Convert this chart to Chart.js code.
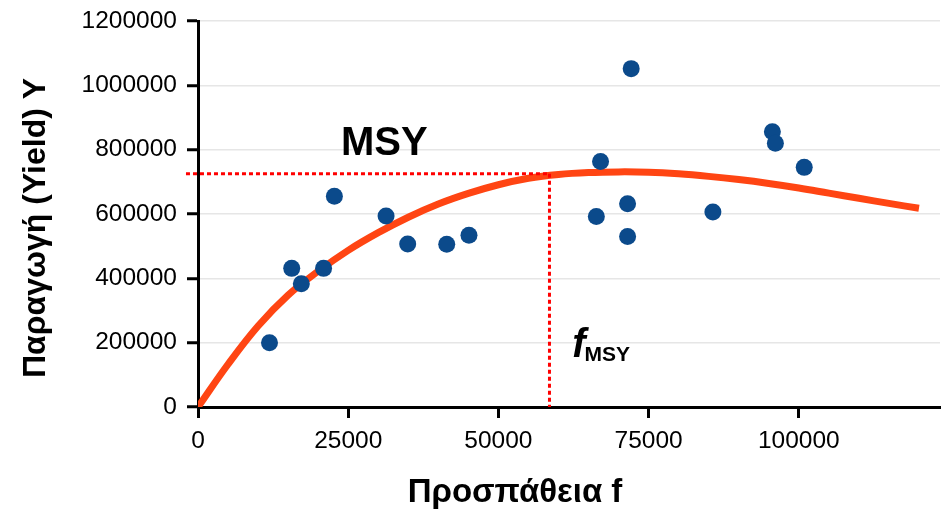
<!DOCTYPE html>
<html>
<head>
<meta charset="utf-8">
<script src="https://cdn.jsdelivr.net/npm/chart.js@4.4.0/dist/chart.umd.min.js"></script>
<style>
  html, body { margin: 0; padding: 0; background: #fff; }
</style>
</head>
<body>
<canvas id="chart" width="941" height="510"></canvas>
<script>
// observed catches (effort f, yield Y)
const effortObs = [11900, 15600, 17200, 20900, 22700, 31300, 34900, 41400, 45100,
  66300, 67000, 71500, 71500, 72100, 85700, 95600, 96100, 100900];
const yieldObs = [200000, 431000, 383000, 431000, 655000, 594000, 507000, 506000, 534000,
  592000, 763000, 632000, 530000, 1052000, 606000, 856000, 820000, 745000];

// fitted curve
const curveEffort = [0, 5000, 10000, 15000, 20000, 25000, 30000, 35000, 40000, 45000, 50000,
  55000, 60000, 65000, 70000, 75000, 80000, 85000, 90000, 95000, 100000, 105000, 110000, 115000, 120000];
const curveYield = [0, 133000, 252000, 348000, 422000, 487000, 542000, 590000, 631000, 664000, 691000,
  711000, 723000, 729000, 731000, 730000, 725000, 717000, 707000, 695000, 681000, 665000, 649000, 633000, 618000];

const fMsy = 58500;
const yMsy = 725000;

const xTicks = [0, 25000, 50000, 75000, 100000];
const yTicks = [0, 200000, 400000, 600000, 800000, 1000000, 1200000];

// label anchors in data units
const msyLabelAt = [31000, 818000];
const fLabelAt = [62300, 155000];

const FONT = '"Liberation Sans", Arial, Helvetica, sans-serif';
Chart.defaults.font.family = FONT;
Chart.defaults.color = '#000';

const toXY = (xs, ys) => xs.map((v, i) => ({ x: v, y: ys[i] }));

const labelsPlugin = {
  id: 'msyLabels',
  afterDatasetsDraw(chart) {
    const { ctx, scales: { x, y } } = chart;
    ctx.save();
    ctx.fillStyle = '#000';
    ctx.font = 'bold 40px ' + FONT;
    ctx.textAlign = 'center';
    ctx.textBaseline = 'middle';
    ctx.fillText('MSY', x.getPixelForValue(msyLabelAt[0]), y.getPixelForValue(msyLabelAt[1]));

    const fx = x.getPixelForValue(fLabelAt[0]);
    const fy = y.getPixelForValue(fLabelAt[1]);
    ctx.textAlign = 'left';
    ctx.textBaseline = 'alphabetic';
    ctx.font = 'italic bold 40px ' + FONT;
    ctx.fillText('f', fx, fy);
    const w = ctx.measureText('f').width;
    ctx.font = 'bold 21px ' + FONT;
    ctx.fillText('MSY', fx + w - 1, fy + 4);

    // axis titles
    ctx.textAlign = 'center';
    ctx.textBaseline = 'middle';
    ctx.font = 'bold 33px ' + FONT;
    ctx.fillText('Προσπάθεια f', 515, 493);
    ctx.translate(36, 228);
    ctx.rotate(-Math.PI / 2);
    ctx.font = 'bold 32px ' + FONT;
    ctx.fillText('Παραγωγή (Yield) Y', 0, 0);
    ctx.restore();
  }
};

new Chart(document.getElementById('chart'), {
  type: 'scatter',
  data: {
    datasets: [
      {
        label: 'Observed',
        data: toXY(effortObs, yieldObs),
        pointRadius: 8.5,
        pointHoverRadius: 8.5,
        backgroundColor: '#0b4a8b',
        borderWidth: 0,
        order: 0
      },
      {
        type: 'line',
        label: 'MSY level',
        data: [{ x: -2000, y: yMsy }, { x: fMsy, y: yMsy }],
        borderColor: '#ff0000',
        borderWidth: 3,
        borderDash: [4, 3],
        pointRadius: 0,
        clip: false,
        order: 1
      },
      {
        type: 'line',
        label: 'f MSY',
        data: [{ x: fMsy, y: yMsy }, { x: fMsy, y: 0 }],
        borderColor: '#ff0000',
        borderWidth: 3,
        borderDash: [4, 3],
        pointRadius: 0,
        clip: false,
        order: 1
      },
      {
        type: 'line',
        label: 'Curve',
        data: toXY(curveEffort, curveYield),
        borderColor: '#ff4513',
        borderWidth: 7,
        pointRadius: 0,
        tension: 0.4,
        fill: false,
        order: 2
      }
    ]
  },
  options: {
    responsive: false,
    animation: false,
    layout: { autoPadding: false, padding: { top: 21, right: 1, bottom: 0, left: 0 } },
    plugins: { legend: { display: false }, tooltip: { enabled: false } },
    scales: {
      x: {
        type: 'linear',
        min: 0,
        max: 123500,
        afterBuildTicks: s => { s.ticks = xTicks.map(v => ({ value: v })); },
        afterFit: s => { s.height = 103; },
        grid: { drawOnChartArea: false, tickLength: 11, tickWidth: 3, tickColor: '#000' },
        border: { color: '#000', width: 3 },
        ticks: { font: { size: 24.5 }, padding: 9, maxRotation: 0, callback: v => String(v) }
      },
      y: {
        type: 'linear',
        min: 0,
        max: 1200000,
        afterBuildTicks: s => { s.ticks = yTicks.map(v => ({ value: v })); },
        afterFit: s => { s.width = 198; },
        grid: { color: '#e6e6e6', lineWidth: 1.5, tickLength: 11, tickWidth: 3, tickColor: '#000' },
        border: { color: '#000', width: 3 },
        ticks: { font: { size: 24.5, lineHeight: 0.9 }, padding: 10, callback: v => String(v) }
      }
    }
  },
  plugins: [labelsPlugin]
});
</script>
</body>
</html>
